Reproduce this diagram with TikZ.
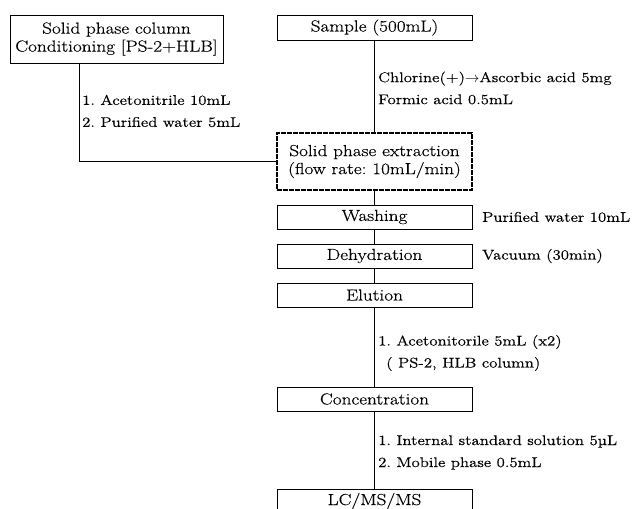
\documentclass[tikz,border=0pt]{standalone}
\usepackage{fontspec}
\setmainfont{Latin Modern Roman}[FakeStretch=1.2,FakeBold=0.4]
\usepackage{tikz}
\usetikzlibrary{positioning}
\frenchspacing

\begin{document}
\begin{tikzpicture}[
      x=1pt,y=-1pt,
      box/.style={rectangle,draw=black,line width=1pt,fill=white,align=center,inner sep=0pt,
        minimum width=195pt,minimum height=24pt,font=\fontsize{16}{18}\selectfont},
      spebox/.style={box,line width=1.6pt,dash pattern=on 5pt off 1pt,minimum height=57pt},
      note/.style={anchor=west,inner sep=0pt,align=left,font=\fontsize{14}{22}\selectfont},
      link/.style={line width=1pt}
    ]
    \useasboundingbox (0,0) rectangle (633,509);
    \node[box,minimum width=213pt,minimum height=48pt] (cond) at (116.5,39) {Solid phase column\\Conditioning [PS-2+HLB]};
    \node[box,minimum height=25pt] (sample) at (374.5,27.5) {Sample (500mL)};
    \node[spebox] (spe) at (374.5,161.5) {Solid phase extraction\\(flow rate: 10mL/min)};
    \node[box] (wash) at (374.5,217) {Washing};
    \node[box] (dehyd) at (374.5,256) {Dehydration};
    \node[box] (elute) at (374.5,295) {Elution};
    \node[box] (conc) at (374.5,399) {Concentration};
    \node[box] (lcms) at (374.5,501) {LC/MS/MS};
    % connectors
    \coordinate (condfoot) at (79,63);
    \draw[link] (condfoot) |- (spe.west);
    \draw[link] (sample) -- (spe);
    \draw[link] (spe) -- (wash);
    \draw[link] (wash) -- (dehyd);
    \draw[link] (dehyd) -- (elute);
    \draw[link] (elute) -- (conc);
    \draw[link] (conc) -- (lcms);
    % notes
    \node[note] (condnote) at (82,111) {1. Acetonitrile 10mL\\2. Purified water 5mL};
    \node[note] (samplenote) at (378,88) {Chlorine(+)$\rightarrow$Ascorbic acid 5mg\\Formic acid 0.5mL};
    \node[note] (washnote) at (482,217) {Purified water 10mL};
    \node[note] (dehydnote) at (482,256) {Vacuum (30min)};
    \node[note] (elutenote) at (378,353) {1. Acetonitorile 5mL (x2)\\\hspace*{8pt}( PS-2, HLB column)};
    \node[note] (concnote) at (378,452.5) {1. Internal standard solution 5µL\\2. Mobile phase 0.5mL};
  \end{tikzpicture}
\end{document}
